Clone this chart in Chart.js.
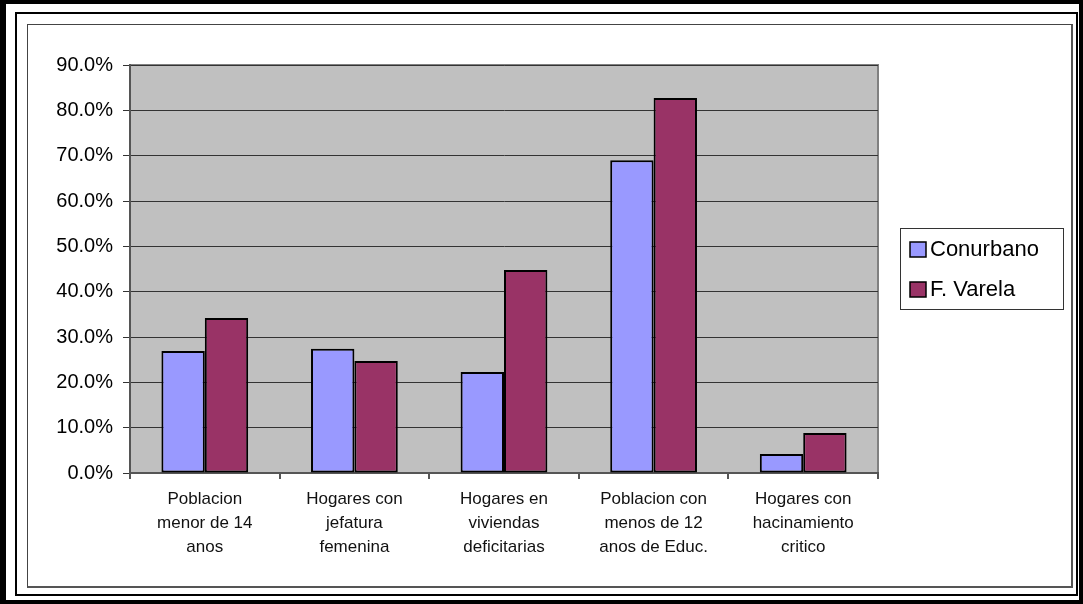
<!DOCTYPE html>
<html>
<head>
<meta charset="utf-8">
<script src="https://cdn.jsdelivr.net/npm/chart.js@4/dist/chart.umd.min.js"></script>
<style>
  html, body { margin: 0; padding: 0; background: #fff; }
  body { width: 1083px; height: 604px; position: relative; overflow: hidden; }
  .frame-outer {
    position: absolute; left: 0; top: 0; width: 1083px; height: 604px;
    box-sizing: border-box; border: 4px solid #000; border-left-width: 6px;
  }
  .frame-inner {
    position: absolute; left: 15px; top: 12px; width: 1063px; height: 584px;
    box-sizing: border-box; border: 2px solid #000;
  }
  .chart-box {
    position: absolute; left: 27px; top: 24px; width: 1046px; height: 564px;
    box-sizing: border-box; border: 1px solid #444;
    border-right: 2px solid #555; border-bottom: 2px solid #555;
    background: #fff;
  }
  #chart { position: absolute; left: 0; top: 0; }
</style>
</head>
<body>
<div class="frame-outer"></div>
<div class="frame-inner"></div>
<div class="chart-box">
  <canvas id="chart" width="1043" height="561"></canvas>
</div>
<script>
// ── Data ──
const CATEGORIES = [
  ["Poblacion", "menor de 14", "anos"],
  ["Hogares con", "jefatura", "femenina"],
  ["Hogares en", "viviendas", "deficitarias"],
  ["Poblacion con", "menos de 12", "anos de Educ."],
  ["Hogares con", "hacinamiento", "critico"]
];
const SERIES_NAMES  = ["Conurbano", "F. Varela"];
const CONURBANO     = [0.269, 0.274, 0.223, 0.690, 0.042];
const F_VARELA      = [0.342, 0.247, 0.448, 0.827, 0.088];
const SERIES_COLORS = ["#9999FF", "#993366"];

const FONT = "'Liberation Sans', Arial, sans-serif";

// ── Grey plot area + border ──
const plotBg = {
  id: "plotBg",
  beforeDraw(chart) {
    const { ctx, chartArea: a } = chart;
    ctx.save();
    ctx.fillStyle = "#C0C0C0";
    ctx.fillRect(a.left, a.top, a.right - a.left, a.bottom - a.top);
    ctx.strokeStyle = "#808080";
    ctx.lineWidth = 2;
    ctx.strokeRect(a.left, a.top, a.right - a.left, a.bottom - a.top);
    ctx.restore();
  }
};

// ── Boxed legend on the right ──
const boxLegend = {
  id: "boxLegend",
  afterDraw(chart) {
    const ctx = chart.ctx;
    const x = 872, y = 203, w = 163, h = 81;
    ctx.save();
    ctx.fillStyle = "#fff";
    ctx.fillRect(x, y, w, h);
    ctx.strokeStyle = "#333";
    ctx.lineWidth = 1;
    ctx.strokeRect(x + 0.5, y + 0.5, w, h);
    ctx.font = "22px " + FONT;
    ctx.textBaseline = "middle";
    chart.data.datasets.forEach((ds, i) => {
      const cy = y + 21 + i * 40;
      ctx.fillStyle = ds.backgroundColor;
      ctx.fillRect(x + 10, cy - 7, 16, 15);
      ctx.strokeStyle = "#000";
      ctx.lineWidth = 1.5;
      ctx.strokeRect(x + 10, cy - 7, 16, 15);
      ctx.fillStyle = "#000";
      ctx.fillText(ds.label, x + 30, cy + 1);
    });
    ctx.restore();
  }
};

new Chart(document.getElementById("chart"), {
  type: "bar",
  data: {
    labels: CATEGORIES,
    datasets: [
      { label: SERIES_NAMES[0], data: CONURBANO, backgroundColor: SERIES_COLORS[0] },
      { label: SERIES_NAMES[1], data: F_VARELA,  backgroundColor: SERIES_COLORS[1] }
    ]
  },
  options: {
    responsive: false,
    animation: false,
    layout: { padding: { top: 40, right: 193, left: 0, bottom: 0 } },
    datasets: {
      bar: {
        borderColor: "#000",
        borderWidth: 2,
        borderSkipped: false,
        categoryPercentage: 0.58,
        barPercentage: 1
      }
    },
    plugins: {
      legend: { display: false },
      tooltip: { enabled: false }
    },
    scales: {
      x: {
        afterFit: s => { s.height = 113; },
        grid: {
          offset: true,
          drawOnChartArea: false,
          drawTicks: true,
          tickLength: 6,
          color: "#555",
          lineWidth: 2
        },
        border: { display: true, color: "#555", width: 2 },
        ticks: {
          color: "#111",
          padding: 8,
          maxRotation: 0,
          autoSkip: false,
          font: { family: FONT, size: 17, lineHeight: 1.41 }
        }
      },
      y: {
        min: 0,
        max: 0.9,
        afterFit: s => { s.width = 102; },
        grid: {
          color: "#333",
          lineWidth: 1,
          drawTicks: true,
          tickLength: 7
        },
        border: { display: true, color: "#555", width: 2 },
        ticks: {
          stepSize: 0.1,
          color: "#000",
          padding: 10,
          font: { family: FONT, size: 20 },
          callback: v => (v * 100).toFixed(1) + "%"
        }
      }
    }
  },
  plugins: [plotBg, boxLegend]
});
</script>
</body>
</html>
